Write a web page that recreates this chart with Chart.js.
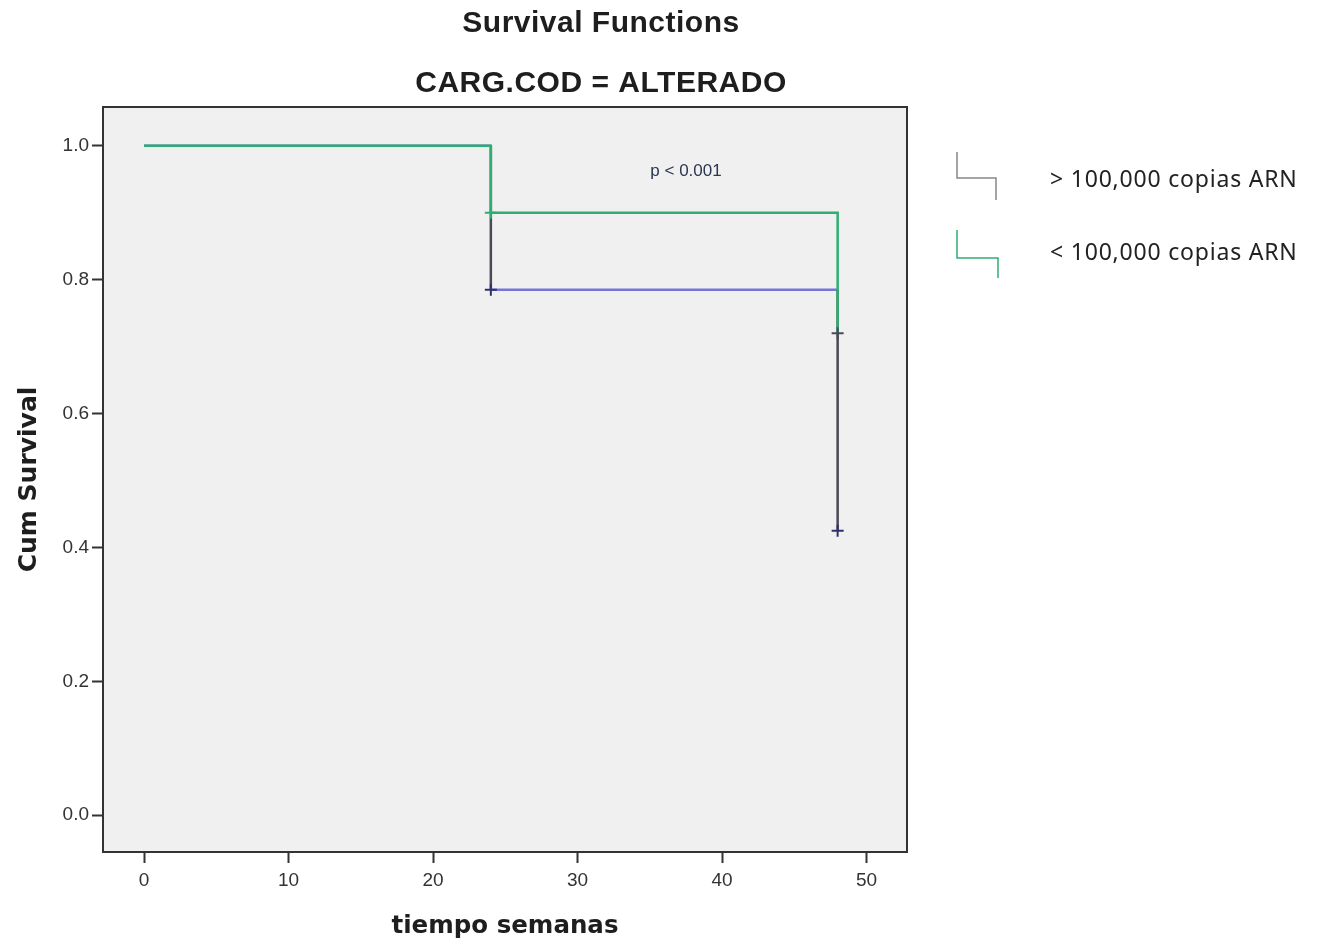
<!DOCTYPE html>
<html>
<head>
<meta charset="utf-8">
<script src="https://cdn.jsdelivr.net/npm/chart.js@4"></script>
<style>
  html, body { margin: 0; padding: 0; background: #fff; }
  #wrap { width: 1318px; height: 945px; }
</style>
</head>
<body>
<div id="wrap"><canvas id="km"></canvas></div>
<script>
// Kaplan-Meier steps
const highTimes = [0, 24, 48];
const highSurv = [1.0, 0.785, 0.425];
const lowTimes = [0, 24, 48];
const lowSurv = [1.0, 0.9, 0.72];

// censored cases (the small + marks)
const highCensorX = [24, 48];
const highCensorY = [0.785, 0.425];
const lowCensorX = [24, 48];
const lowCensorY = [0.9, 0.72];

const xTicks = [0, 10, 20, 30, 40, 50];
const yTicks = [0.0, 0.2, 0.4, 0.6, 0.8, 1.0];
const legendLabels = ['> 100,000 copias ARN', '< 100,000 copias ARN'];

const GREEN = '#2fae72';
const BLUE = '#7476d6';
const DARK = '#4a4a55';

// turn survival times into step points (horizontal then vertical)
function stepPoints(times, surv) {
    const pts = [{ x: times[0], y: surv[0] }];
    for (let i = 1; i < times.length; i++) {
        pts.push({ x: times[i], y: surv[i - 1] });
        pts.push({ x: times[i], y: surv[i] });
    }
    return pts;
}

// plot background, frame, titles and the hand-made legend
const decor = {
    id: 'decor',
    beforeDatasetsDraw(chart) {
        const { ctx, chartArea: a } = chart;
        ctx.save();
        ctx.fillStyle = '#f0f0f0';
        ctx.fillRect(a.left, a.top, a.right - a.left, a.bottom - a.top);
        ctx.restore();
    },
    afterDraw(chart) {
        const { ctx, chartArea: a } = chart;
        ctx.save();
        ctx.strokeStyle = '#333';
        ctx.lineWidth = 2;
        ctx.strokeRect(a.left, a.top, a.right - a.left, a.bottom - a.top);

        ctx.fillStyle = '#1e1e1e';
        ctx.textAlign = 'center';
        ctx.textBaseline = 'middle';
        ctx.font = 'bold 30px "Liberation Sans", Arial, sans-serif';
        ctx.letterSpacing = '0.5px';
        ctx.fillText('Survival Functions', 601, 24);
        ctx.fillText('CARG.COD = ALTERADO', 601, 84);

        ctx.letterSpacing = '0px';
        ctx.font = '17px "Liberation Sans", Arial, sans-serif';
        ctx.fillStyle = '#2a3550';
        ctx.fillText('p < 0.001', 686, 171);

        // legend
        ctx.lineWidth = 1.5;
        ctx.strokeStyle = '#888';
        ctx.beginPath();
        ctx.moveTo(957, 152); ctx.lineTo(957, 178); ctx.lineTo(996, 178); ctx.lineTo(996, 200);
        ctx.stroke();
        ctx.strokeStyle = GREEN;
        ctx.beginPath();
        ctx.moveTo(957, 230); ctx.lineTo(957, 258); ctx.lineTo(998, 258); ctx.lineTo(998, 278);
        ctx.stroke();

        ctx.fillStyle = '#222';
        ctx.textAlign = 'left';
        ctx.font = '23px "Noto Sans", "Open Sans", sans-serif';
        ctx.letterSpacing = '0.8px';
        ctx.fillText(legendLabels[0], 1050, 180);
        ctx.fillText(legendLabels[1], 1050, 253);
        ctx.restore();
    }
};

const ctx = document.getElementById('km').getContext('2d');
const myChart = new Chart(ctx, {
    type: 'scatter',
    data: {
        datasets: [
            {
                label: legendLabels[1],
                data: stepPoints(lowTimes, lowSurv),
                showLine: true,
                borderColor: GREEN,
                borderWidth: 2.5,
                pointRadius: 0,
                order: 2
            },
            {
                label: legendLabels[0],
                data: stepPoints(highTimes, highSurv),
                showLine: true,
                borderColor: BLUE,
                borderWidth: 2.5,
                pointRadius: 0,
                segment: {
                    borderColor: c => c.p0.parsed.x === c.p1.parsed.x ? DARK : BLUE
                },
                order: 3
            },
            {
                label: 'censor low',
                data: lowCensorX.map((x, i) => ({ x, y: lowCensorY[i] })),
                pointStyle: 'cross',
                pointRadius: 6,
                pointBorderWidth: 2,
                pointBorderColor: [GREEN, DARK],
                order: 1
            },
            {
                label: 'censor high',
                data: highCensorX.map((x, i) => ({ x, y: highCensorY[i] })),
                pointStyle: 'cross',
                pointRadius: 6,
                pointBorderWidth: 2,
                pointBorderColor: '#30306a',
                order: 0
            }
        ]
    },
    options: {
        responsive: true,
        maintainAspectRatio: false,
        animation: false,
        layout: { padding: { left: 0, top: 107, right: 411, bottom: 0 } },
        scales: {
            x: {
                type: 'linear',
                min: -2.84,
                max: 52.8,
                afterBuildTicks: s => { s.ticks = xTicks.map(v => ({ value: v })); },
                afterFit: s => { s.height = 93; },
                grid: { drawOnChartArea: false, drawTicks: true, tickLength: 11, tickColor: '#333', tickWidth: 2 },
                border: { display: false },
                ticks: { color: '#333', font: { size: 19, family: '"Liberation Sans", Arial' }, padding: 6 },
                title: {
                    display: true,
                    text: 'tiempo semanas',
                    color: '#1e1e1e',
                    font: { size: 24.5, weight: 'bold', family: '"DejaVu Sans", Verdana' },
                    padding: { top: 8 }
                }
            },
            y: {
                min: -0.055,
                max: 1.058,
                afterBuildTicks: s => { s.ticks = yTicks.map(v => ({ value: v })); },
                afterFit: s => { s.width = 103; },
                grid: { drawOnChartArea: false, drawTicks: true, tickLength: 11, tickColor: '#333', tickWidth: 2 },
                border: { display: false },
                ticks: {
                    color: '#333',
                    font: { size: 19, family: '"Liberation Sans", Arial' },
                    padding: 3,
                    callback: v => v.toFixed(1)
                },
                title: {
                    display: true,
                    text: 'Cum Survival',
                    color: '#1e1e1e',
                    font: { size: 25, weight: 'bold', family: '"DejaVu Sans", Verdana' },
                    padding: { top: 14, bottom: 4 }
                }
            }
        },
        plugins: {
            legend: { display: false },
            tooltip: { enabled: false }
        }
    },
    plugins: [decor]
});
</script>
</body>
</html>
